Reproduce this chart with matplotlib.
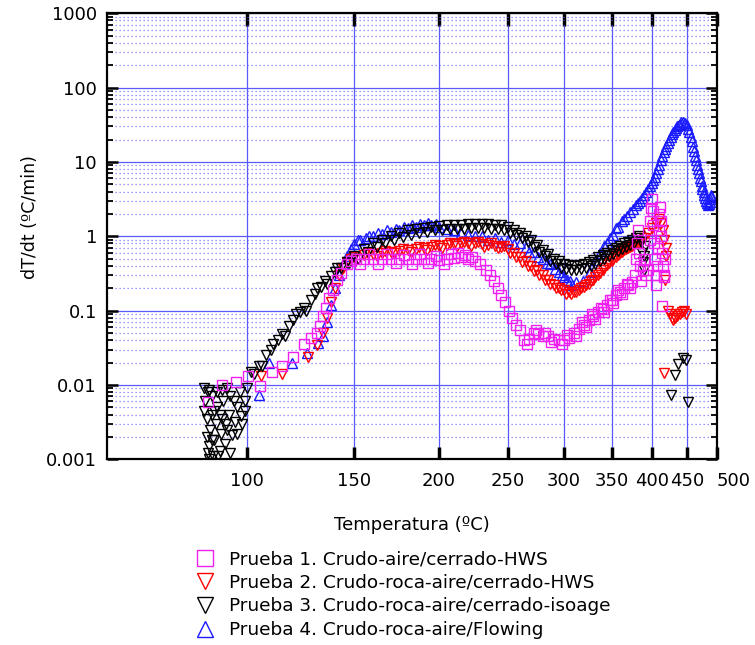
import numpy as np
import matplotlib.pyplot as plt
from matplotlib.ticker import LogLocator, FixedLocator, FuncFormatter, NullLocator

# Prueba 1. Crudo-aire/cerrado-HWS (squares)
t1 = [84.5, 89.9, 95.6, 100.4, 105.4, 110.4, 115, 119.9, 124.7, 128, 131, 132.5, 134, 135.5, 137, 139, 141,
      143, 146, 148, 151, 155, 160, 165, 170, 175, 180, 185, 190, 195, 200, 205, 210, 215, 220, 225, 229,
      233, 236, 239, 242, 245, 248, 251, 254, 257, 260, 264, 268, 272, 276, 280, 285, 290, 295, 300, 305,
      310, 315, 320, 325, 330, 335, 340, 345, 350, 355, 360, 365, 370, 375, 378, 380, 381, 382, 383, 384,
      386, 388, 390, 392, 395, 397, 398, 399, 400, 401, 402, 403, 404, 405, 406, 407, 408, 409, 410, 411,
      412, 413, 414, 415, 416, 417, 418, 413.5]
v1 = [0.0059, 0.010, 0.011, 0.013, 0.0097, 0.015, 0.018, 0.024, 0.036, 0.043, 0.05, 0.063, 0.085, 0.11,
      0.15, 0.19, 0.26, 0.32, 0.43, 0.47, 0.5, 0.5, 0.49, 0.5, 0.5, 0.49, 0.5, 0.5, 0.49, 0.49, 0.48, 0.5,
      0.51, 0.52, 0.5, 0.47, 0.42, 0.35, 0.3, 0.25, 0.2, 0.16, 0.13, 0.1, 0.08, 0.065, 0.055, 0.04, 0.042,
      0.05, 0.048, 0.046, 0.045, 0.042, 0.04, 0.04, 0.043, 0.05, 0.056, 0.065, 0.075, 0.085, 0.095, 0.105,
      0.12, 0.14, 0.16, 0.18, 0.2, 0.22, 0.24, 0.3, 0.5, 0.8, 1.2, 0.6, 0.4, 0.25, 0.35, 0.5, 0.3, 0.35,
      0.9, 1.6, 2.4, 3.2, 2.2, 1.4, 0.8, 0.5, 0.3, 0.22, 0.4, 0.7, 1.2, 2.0, 2.5, 1.6, 1.0, 0.6, 0.4, 0.28,
      0.3, 0.5, 0.117]
# spread of the magenta band
t1b = [153, 158, 163, 168, 173, 178, 183, 188, 193, 198, 203, 208, 213, 218, 223, 266, 274, 282, 288, 298,
       303, 312, 318, 322, 328, 332, 338, 342, 348, 352, 358, 362, 368, 372]
v1b = [0.42, 0.58, 0.43, 0.57, 0.44, 0.56, 0.43, 0.57, 0.44, 0.55, 0.43, 0.58, 0.6, 0.56, 0.52, 0.036,
       0.055, 0.05, 0.038, 0.036, 0.047, 0.046, 0.07, 0.06, 0.09, 0.078, 0.11, 0.095, 0.14, 0.125, 0.19,
       0.165, 0.23, 0.2]

# Prueba 2. Crudo-roca-aire/cerrado-HWS (down triangles, red)
t2 = [105.8, 115, 127, 131, 134, 136, 138, 140, 142, 144, 146, 148, 150, 155, 160, 165, 170, 175, 180, 185,
      190, 195, 200, 205, 210, 215, 220, 225, 230, 235, 240, 245, 250, 255, 260, 265, 270, 275, 280, 285,
      290, 295, 300, 305, 310, 315, 320, 325, 330, 335, 340, 345, 350, 355, 360, 365, 370, 375, 380, 385,
      390, 395, 400, 405, 410, 413, 415, 417, 419, 420, 418, 422, 425, 428, 430, 433, 436, 440, 443, 446,
      449, 416]
v2 = [0.013, 0.014, 0.024, 0.034, 0.05, 0.08, 0.13, 0.2, 0.3, 0.38, 0.45, 0.5, 0.53, 0.56, 0.58, 0.6, 0.62,
      0.64, 0.66, 0.68, 0.7, 0.72, 0.74, 0.76, 0.78, 0.8, 0.8, 0.8, 0.78, 0.77, 0.75, 0.72, 0.68, 0.6, 0.52,
      0.46, 0.4, 0.35, 0.3, 0.26, 0.22, 0.2, 0.19, 0.18, 0.18, 0.19, 0.21, 0.23, 0.26, 0.3, 0.35, 0.41,
      0.47, 0.53, 0.6, 0.65, 0.7, 0.75, 0.8, 0.85, 0.95, 1.1, 1.3, 1.5, 1.7, 1.5, 1.2, 0.9, 0.7, 0.55,
      0.26, 0.1, 0.09, 0.08, 0.075, 0.08, 0.085, 0.09, 0.095, 0.1, 0.09, 0.0147]
t2b = [152, 157, 162, 167, 172, 177, 182, 187, 192, 197, 202, 207, 212, 217, 222, 227, 232, 237, 242, 247,
       252, 257, 262, 267, 272, 277, 282, 287, 292, 297, 302, 307, 312, 317, 322, 327, 332, 337, 342, 347,
       352, 357, 362, 367, 372, 377, 382]
v2b = [0.5, 0.6, 0.55, 0.64, 0.6, 0.68, 0.62, 0.72, 0.66, 0.76, 0.7, 0.82, 0.74, 0.84, 0.74, 0.84, 0.72,
       0.8, 0.7, 0.74, 0.6, 0.52, 0.45, 0.4, 0.34, 0.3, 0.26, 0.23, 0.2, 0.19, 0.17, 0.17, 0.18, 0.2, 0.22,
       0.25, 0.28, 0.32, 0.38, 0.44, 0.5, 0.56, 0.62, 0.68, 0.72, 0.78, 0.82]

# Prueba 3. Crudo-roca-aire/cerrado-isoage (down triangles, black)
t3 = [83, 83.5, 84, 84, 84.5, 85, 85, 85.5, 86, 86, 86.5, 87, 87.5, 88, 88, 89, 89.5, 90, 90.5, 91, 92,
      92.5, 93, 94, 95, 96, 97, 98, 99, 100, 103, 105, 108, 110, 113, 115, 118, 120, 123, 125, 128, 130,
      133, 135, 138, 140, 143, 146, 150, 155, 160, 165, 170, 175, 180, 185, 190, 195, 200, 205, 210, 215,
      220, 225, 230, 235, 240, 245, 250, 255, 260, 265, 270, 275, 280, 285, 290, 295, 300, 305, 310, 315,
      320, 325, 330, 335, 340, 345, 350, 355, 360, 365, 370, 375, 380, 383, 386, 387, 388, 389, 390, 391,
      444, 448.5, 436.6, 432, 426.4, 451.5]
v3 = [0.009, 0.006, 0.0035, 0.002, 0.0012, 0.001, 0.0015, 0.0025, 0.004, 0.007, 0.0011, 0.0018, 0.003,
      0.005, 0.008, 0.0013, 0.0022, 0.0035, 0.006, 0.0016, 0.0025, 0.004, 0.007, 0.0021, 0.0032, 0.005,
      0.008, 0.003, 0.0045, 0.009, 0.014, 0.018, 0.025, 0.03, 0.04, 0.048, 0.062, 0.075, 0.095, 0.11, 0.14,
      0.17, 0.21, 0.25, 0.29, 0.33, 0.38, 0.45, 0.55, 0.68, 0.8, 0.9, 1.0, 1.1, 1.2, 1.25, 1.3, 1.35, 1.38,
      1.4, 1.42, 1.44, 1.45, 1.45, 1.45, 1.45, 1.44, 1.4, 1.32, 1.22, 1.12, 1.0, 0.88, 0.76, 0.66, 0.57,
      0.5, 0.46, 0.43, 0.41, 0.4, 0.41, 0.42, 0.45, 0.48, 0.52, 0.56, 0.6, 0.65, 0.7, 0.75, 0.8, 0.85, 0.9,
      0.95, 1.0, 0.85, 0.6, 0.45, 0.35, 0.55, 0.75,
      0.023, 0.022, 0.019, 0.0135, 0.0073, 0.0059]
t3b = [83, 84.5, 86, 87, 88.5, 90, 91.5, 93, 94.5, 96, 97.5, 99, 85, 89, 92, 101.5, 106, 111, 116, 121, 126,
       131, 136, 141, 147, 152, 157, 162, 167, 172, 177, 182, 187, 192, 197, 202, 207, 212, 217, 222, 227,
       232, 237, 242, 247, 252, 257, 262, 267, 272, 277, 282, 287, 292, 297, 302, 307, 312, 317, 322, 327,
       332, 337, 342, 347, 352, 357, 362, 367, 372, 377]
v3b = [0.0045, 0.008, 0.0018, 0.0045, 0.0011, 0.0085, 0.003, 0.0012, 0.006, 0.0022, 0.0038, 0.006, 0.0085,
       0.004, 0.009, 0.015, 0.018, 0.036, 0.046, 0.09, 0.1, 0.2, 0.23, 0.37, 0.44, 0.5, 0.62, 0.72, 0.82,
       0.9, 0.98, 1.05, 1.1, 1.15, 1.2, 1.22, 1.25, 1.25, 1.27, 1.28, 1.28, 1.28, 1.27, 1.25, 1.2, 1.12,
       1.05, 0.95, 0.83, 0.72, 0.62, 0.54, 0.47, 0.42, 0.38, 0.36, 0.35, 0.35, 0.36, 0.38, 0.4, 0.43, 0.47,
       0.5, 0.54, 0.58, 0.63, 0.67, 0.72, 0.77, 0.82]

# Prueba 4. Crudo-roca-aire/Flowing (up triangles, blue)
t4 = [105, 109, 119.5, 126.5, 131.5, 134, 136, 138, 140, 142, 144, 146, 148, 150, 153, 156, 160, 165, 170,
      175, 180, 185, 190, 195, 200, 210, 220, 230, 240, 250, 260, 265, 272, 280, 287, 295, 300, 306, 308,
      312, 319, 326, 333, 337, 345, 352, 358, 365, 372, 380, 385, 390, 395, 400, 404, 408, 412, 416, 420,
      424, 428, 432, 436, 440, 445, 448, 452, 456, 460, 463, 466, 469, 472, 475, 478, 481, 484, 486, 488,
      490]
v4 = [0.0073, 0.020, 0.020, 0.027, 0.037, 0.045, 0.07, 0.12, 0.2, 0.3, 0.42, 0.55, 0.68, 0.78, 0.88, 0.95,
      1.0, 1.08, 1.15, 1.2, 1.3, 1.35, 1.4, 1.42, 1.35, 1.2, 1.05, 1.0, 0.95, 0.9, 0.8, 0.72, 0.62, 0.5,
      0.42, 0.33, 0.28, 0.25, 0.22, 0.24, 0.25, 0.33, 0.48, 0.6, 0.8, 1.05, 1.35, 1.7, 2.1, 2.6, 3.0, 3.6,
      4.3, 5.2, 6.3, 8.0, 10.5, 13.5, 16.5, 20, 23.5, 27, 30, 32.5, 35, 33, 28, 22, 16, 12, 9, 7, 5.5, 4.3,
      3.6, 3.0, 2.6, 2.7, 3.2, 3.6]
t4b = [152, 158, 163, 168, 173, 178, 183, 188, 193, 198, 205, 215, 225, 235, 245, 255, 268, 276, 284, 291,
       298, 303, 341, 348, 355, 362, 368, 376, 382, 387, 392, 397, 402, 406, 410, 414, 418, 422, 426, 430,
       434, 438, 442, 450, 454, 458, 461, 465, 468, 471, 474, 477, 480, 483, 487, 489]
v4b = [0.9, 1.02, 1.1, 1.2, 1.25, 1.35, 1.4, 1.48, 1.5, 1.48, 1.25, 1.1, 1.0, 0.9, 0.85, 0.78, 0.62, 0.52,
       0.44, 0.36, 0.3, 0.26, 0.75, 0.95, 1.3, 1.6, 1.85, 2.3, 2.8, 3.3, 3.9, 4.8, 5.8, 7, 9.2, 12, 15, 18,
       22, 25, 28.5, 31, 34, 31, 25, 19, 14, 10.5, 8, 6, 4.8, 4.0, 3.3, 2.8, 2.9, 3.4]

labels = ['Prueba 1. Crudo-aire/cerrado-HWS',
          'Prueba 2. Crudo-roca-aire/cerrado-HWS',
          'Prueba 3. Crudo-roca-aire/cerrado-isoage',
          'Prueba 4. Crudo-roca-aire/Flowing']
x_ticks = [100, 150, 200, 250, 300, 350, 400, 450, 500]

MAGENTA = '#f020f0'
RED = '#ff0000'
BLACK = '#000000'
BLUE = '#1a1aff'
GRID = '#5a5aff'


def fwd(t):
    return -1000.0 / (np.asarray(t, dtype=float) + 273.15)


def inv(u):
    return -1000.0 / np.asarray(u, dtype=float) - 273.15


fig = plt.figure(figsize=(7.55, 6.45), dpi=100)
ax = fig.add_axes([0.1413, 0.2879, 0.8084, 0.6915])
ax.set_xscale('function', functions=(fwd, inv))
ax.set_yscale('log')

ms = 7
kw = dict(linestyle='none', markerfacecolor='none', markersize=ms, markeredgewidth=1.0)
h4, = ax.plot(t4 + t4b, v4 + v4b, marker='^', color=BLUE, **kw)
h2, = ax.plot(t2 + t2b, v2 + v2b, marker='v', color=RED, **kw)
h3, = ax.plot(t3 + t3b, v3 + v3b, marker='v', color=BLACK, **kw)
h1, = ax.plot(t1 + t1b, v1 + v1b, marker='s', color=MAGENTA, **kw)

ax.set_xlim(50, 500)
ax.set_ylim(1e-3, 1e3)

ax.xaxis.set_major_locator(FixedLocator(x_ticks))
ax.xaxis.set_minor_locator(NullLocator())
ax.xaxis.set_major_formatter(FuncFormatter(lambda v, p: '%d' % round(v)))
ax.yaxis.set_major_locator(LogLocator(base=10, numticks=20))
ax.yaxis.set_minor_locator(LogLocator(base=10, subs=np.arange(2, 10), numticks=20))
ax.yaxis.set_major_formatter(FuncFormatter(lambda v, p: '%g' % v))

ax.grid(True, which='major', axis='both', color=GRID, linewidth=0.9)
ax.grid(True, which='minor', axis='y', color=GRID, linewidth=0.9, linestyle=(0, (1, 2.2)), alpha=0.8)
ax.set_axisbelow(True)

ax.tick_params(axis='x', which='major', direction='in', top=True, length=9, width=2.5, labelsize=13, pad=9)
ax.tick_params(axis='y', which='major', direction='in', right=True, length=8, width=1.8, labelsize=13, pad=7)
ax.tick_params(axis='y', which='minor', direction='in', right=True, length=4.5, width=1.3)
for s in ax.spines.values():
    s.set_linewidth(1.6)

ax.set_xlabel('Temperatura (ºC)', fontsize=13, labelpad=19)
ax.set_ylabel('dT/dt (ºC/min)', fontsize=12.5)
ax.yaxis.set_label_coords(-0.111, 0.543)

# last tick label sits to the right of its tick, as in the original
fig.canvas.draw()
ax.xaxis.get_major_ticks()[-1].label1.set_horizontalalignment('left')

fig.legend(handles=[h1, h2, h3, h4], labels=labels, loc='upper left', bbox_to_anchor=(0.237, 0.173),
           frameon=False, fontsize=13.3, markerscale=1.6, handlelength=1.0, handletextpad=0.8,
           labelspacing=0.31, borderpad=0.4)

fig.savefig('out.png', dpi=100)
